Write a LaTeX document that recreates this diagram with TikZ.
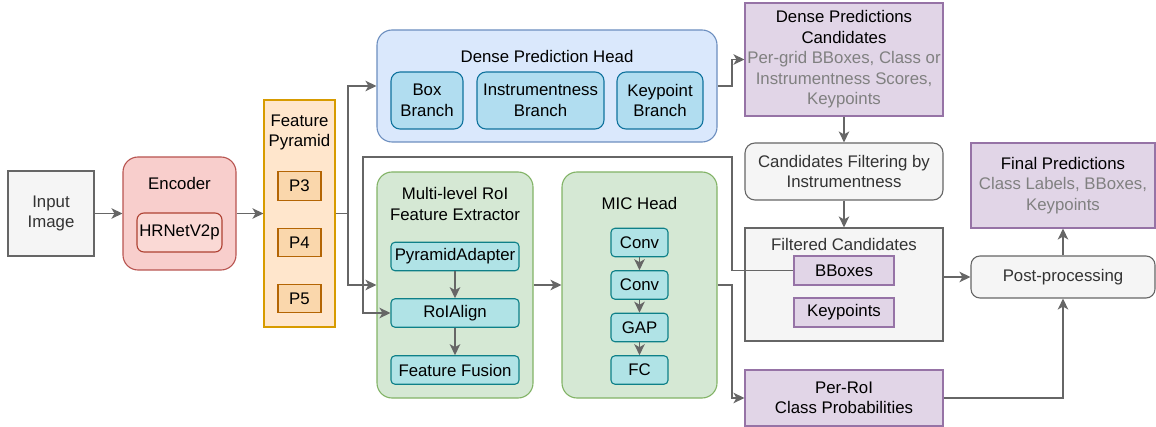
\documentclass[tikz,border=0pt]{standalone}
\usepackage{fontspec}
\setmainfont{Liberation Sans}
\usetikzlibrary{arrows.meta,calc}
\definecolor{lc}{HTML}{666666}
\definecolor{gF}{HTML}{F5F5F5}
\definecolor{gT}{HTML}{333333}
\definecolor{encF}{HTML}{F8CECC}\definecolor{encD}{HTML}{B85450}
\definecolor{hrF}{HTML}{FAD9D5}\definecolor{hrD}{HTML}{AE4132}
\definecolor{fpF}{HTML}{FFE6CC}\definecolor{fpD}{HTML}{D79B00}
\definecolor{pF}{HTML}{FAD7AC}\definecolor{pD}{HTML}{B46504}
\definecolor{bF}{HTML}{DAE8FC}\definecolor{bD}{HTML}{6C8EBF}
\definecolor{brF}{HTML}{B1DDF0}\definecolor{brD}{HTML}{10739E}
\definecolor{grF}{HTML}{D5E8D4}\definecolor{grD}{HTML}{82B366}
\definecolor{cyF}{HTML}{B0E3E6}\definecolor{cyD}{HTML}{0E8088}
\definecolor{puF}{HTML}{E1D5E7}\definecolor{puD}{HTML}{9673A6}
\definecolor{txg}{HTML}{808080}
\tikzset{
  every node/.style={font=\fontsize{16.8}{20.5}\selectfont, inner sep=0pt, align=center},
  bx/.style={draw, line width=1.1pt},
  graybox/.style={bx, fill=gF, draw=lc, text=gT},
  purplebox/.style={bx, fill=puF, draw=puD},
  pbox/.style={bx, fill=pF, draw=pD, minimum width=43pt, minimum height=28.5pt},
  branchbox/.style={bx, fill=brF, draw=brD, rounded corners=9pt, minimum height=57pt},
  cybox/.style={bx, fill=cyF, draw=cyD, rounded corners=4pt, minimum height=28.5pt},
  ln/.style={draw=lc, line width=1.3pt},
  arr/.style={ln, -{Stealth[length=11pt,width=10.5pt,inset=3pt]}},
}
\begin{document}
\begin{tikzpicture}[x=1pt,y=-1pt]
\useasboundingbox (0,0) rectangle (1156,427);
% input and encoder
\node[graybox, minimum width=86pt, minimum height=85pt] (inp) at (51,213.5) {Input\\Image};
\node[bx, fill=encF, draw=encD, rounded corners=15pt, minimum width=113pt, minimum height=113pt] (enc) at (179.5,213.5) {};
\node (encT) at (179.5,183) {Encoder};
\node[bx, fill=hrF, draw=hrD, rounded corners=7pt, minimum width=85pt, minimum height=39pt] (hr) at (179.5,232.5) {HRNetV2p};
% feature pyramid
\node[bx, fill=fpF, draw=fpD, minimum width=71pt, minimum height=227pt] (fp) at (299.5,213.5) {};
\node (fpT) at (299.5,132.5) {Feature\\Pyramid};
\node[pbox] (p3) at (299.5,186) {P3};
\node[pbox] (p4) at (299.5,242.5) {P4};
\node[pbox] (p5) at (299.5,298.5) {P5};
% dense prediction head
\node[bx, fill=bF, draw=bD, rounded corners=15pt, minimum width=340pt, minimum height=112pt] (dph) at (547,86) {};
\node (dphT) at (547,56) {Dense Prediction Head};
\node[branchbox, minimum width=72pt] (bxb) at (427,100.5) {Box\\Branch};
\node[branchbox, minimum width=127pt] (inb) at (540.5,100.5) {Instrumentness\\Branch};
\node[branchbox, minimum width=86pt] (kpb) at (660,100.5) {Keypoint\\Branch};
% multi-level RoI feature extractor
\node[bx, fill=grF, draw=grD, rounded corners=15pt, minimum width=156pt, minimum height=226pt] (mlr) at (455,285) {};
\node (mlrT) at (455,204) {Multi-level RoI\\Feature Extractor};
\node[cybox, minimum width=128pt] (pa) at (455,256.5) {PyramidAdapter};
\node[cybox, minimum width=128pt] (roi) at (455,313) {RoIAlign};
\node[cybox, minimum width=128pt] (ff) at (455,370) {Feature Fusion};
% MIC head
\node[bx, fill=grF, draw=grD, rounded corners=15pt, minimum width=155pt, minimum height=226pt] (mic) at (639.5,285) {};
\node (micT) at (639.5,203) {MIC Head};
\node[cybox, minimum width=57pt] (cv1) at (639.5,242.5) {Conv};
\node[cybox, minimum width=57pt] (cv2) at (639.5,285) {Conv};
\node[cybox, minimum width=57pt] (gap) at (639.5,327.5) {GAP};
\node[cybox, minimum width=57pt] (fcn) at (639.5,370) {FC};
% right column
\node[purplebox, minimum width=198pt, minimum height=113pt] (dpc) at (844,59.5) {Dense Predictions\\Candidates\\\textcolor{txg}{Per-grid BBoxes, Class or}\\\textcolor{txg}{Instrumentness Scores,}\\\textcolor{txg}{Keypoints}};
\node[graybox, rounded corners=10pt, minimum width=198pt, minimum height=57pt] (cf) at (844,171.5) {Candidates Filtering by\\Instrumentness};
\node[graybox, minimum width=198pt, minimum height=113pt] (filt) at (844,284.5) {};
\node[text=gT] (filtT) at (844,244) {Filtered Candidates};
\node[purplebox, minimum width=100pt, minimum height=29pt] (bb) at (844,270.5) {BBoxes};
\node[purplebox, minimum width=100pt, minimum height=29pt] (kpt) at (844,312.5) {Keypoints};
\node[purplebox, minimum width=198pt, minimum height=56pt] (per) at (844,398) {Per-RoI\\Class Probabilities};
\node[graybox, rounded corners=9pt, minimum width=184pt, minimum height=42pt] (pp) at (1063,277) {Post-processing};
\node[purplebox, minimum width=184pt, minimum height=85pt] (fin) at (1063,185.5) {Final Predictions\\\textcolor{txg}{Class Labels, BBoxes,}\\\textcolor{txg}{Keypoints}};
% connectors
\coordinate (j1) at (348,213.5);
\coordinate (c1) at (732,157);
\coordinate (c2) at (363,157);
\coordinate (c3) at (732,86);
\coordinate (c4) at (732,285);
\draw[arr] (inp.east) -- (enc.west);
\draw[arr] (enc.east) -- (fp.west);
\draw[ln] (fp.east) -- (j1);
\draw[arr] (j1) |- (dph.west);
\draw[arr] (j1) |- (mlr.west);
\draw[arr] (bb.west) -| (c1) -- (c2) |- (roi.west);
\draw[arr] (dph.east) -- (c3) |- (dpc.west);
\draw[arr] (dpc.south) -- (cf.north);
\draw[arr] (cf.south) -- (filt.north);
\draw[arr] (filt.east |- pp.west) -- (pp.west);
\draw[arr] (pp.north) -- (fin.south);
\draw[arr] (per.east) -| (pp.south);
\draw[arr] (mlr.east) -- (mic.west);
\draw[arr] (mic.east) -- (c4) |- (per.west);
\draw[arr] (pa.south) -- (roi.north);
\draw[arr] (roi.south) -- (ff.north);
\draw[arr] (cv1.south) -- (cv2.north);
\draw[arr] (cv2.south) -- (gap.north);
\draw[arr] (gap.south) -- (fcn.north);
\end{tikzpicture}
\end{document}
